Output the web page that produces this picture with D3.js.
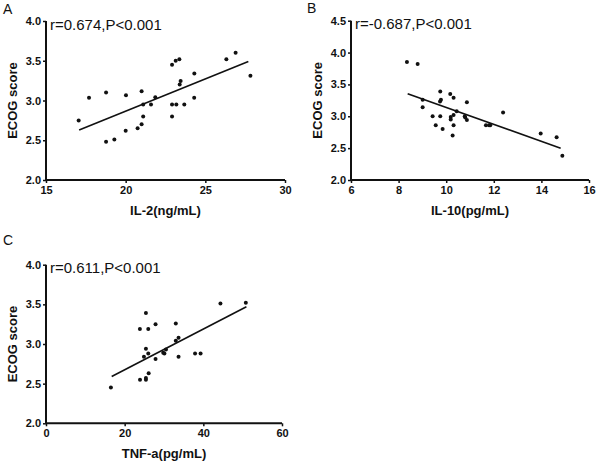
<!DOCTYPE html>
<html><head><meta charset="utf-8">
<script src="https://cdn.jsdelivr.net/npm/d3@7"></script>
<style>body{margin:0;background:#fff}svg{display:block}</style>
</head><body>
<svg id="c" width="600" height="462"></svg>
<script>
// Panel A: IL-2 (ng/mL) vs ECOG score
const il2X = [17.05,17.7,18.77,18.77,19.29,20.02,20.0,20.75,21.0,21.0,21.1,21.1,21.59,21.86,22.91,23.14,23.37,23.39,23.45,22.91,23.18,23.68,22.91,24.31,24.3,26.32,26.9,27.83];
const il2Y = [2.75,3.035,3.10,2.48,2.51,3.065,2.62,2.65,3.115,2.70,2.80,2.95,2.95,3.04,3.45,3.50,3.52,3.20,3.245,2.95,2.95,2.95,2.80,3.34,3.035,3.52,3.60,3.31];
const il2FitX = [17.08, 27.7];
const il2FitY = [2.63, 3.49];
// Panel B: IL-10 (pg/mL) vs ECOG score
const il10X = [8.35,8.80,9.01,9.01,9.43,9.56,9.75,9.75,9.74,9.78,9.85,10.17,10.19,10.19,10.31,10.27,10.31,10.31,10.44,10.78,10.87,10.87,10.80,11.67,11.80,11.85,12.39,13.97,14.64,14.88];
const il10Y = [3.85,3.82,3.26,3.14,3.00,2.86,3.00,3.39,3.23,3.26,2.80,3.35,2.99,2.95,3.29,2.70,2.86,3.02,3.08,3.00,3.22,2.94,2.98,2.86,2.86,2.86,3.06,2.73,2.67,2.38];
const il10FitX = [8.38, 14.81];
const il10FitY = [3.355, 2.50];
// Panel C: TNF-a (pg/mL) vs ECOG score
const tnfX = [16.5,23.87,26.0,25.4,24.9,25.4,26.0,23.9,25.4,25.4,26.1,27.85,27.85,29.8,30.1,30.5,33.0,33.0,33.7,33.7,37.9,39.3,44.35,50.8];
const tnfY = [2.45,3.19,3.19,3.39,2.84,2.94,2.88,2.55,2.57,2.55,2.63,3.25,2.81,2.89,2.88,2.93,3.26,3.04,3.08,2.84,2.88,2.88,3.51,3.52];
const tnfFitX = [16.7, 50.95];
const tnfFitY = [2.59, 3.47];

const xTicksA = [15,20,25,30], yTicksA = [2.0,2.5,3.0,3.5,4.0];
const xTicksB = [6,8,10,12,14,16], yTicksB = [2.0,2.5,3.0,3.5,4.0,4.5];
const xTicksC = [0,20,40,60], yTicksC = [2.0,2.5,3.0,3.5,4.0];

const svg = d3.select("#c");
const FONT = "'Liberation Sans', Arial, Helvetica, sans-serif";

function panel(o){
  const g = svg.append("g");
  const x = d3.scaleLinear().domain(o.xd).range(o.xr);
  const y = d3.scaleLinear().domain(o.yd).range(o.yr);
  const xa = g.append("g").attr("transform",`translate(0,${o.yr[0]})`)
    .call(d3.axisBottom(x).tickValues(o.xt).tickSize(3).tickPadding(3).tickFormat(d3.format("d")));
  const ya = g.append("g").attr("transform",`translate(${o.xr[0]},0)`)
    .call(d3.axisLeft(y).tickValues(o.yt).tickSize(3).tickPadding(2).tickFormat(d3.format(".1f")));
  [xa,ya].forEach(a=>{
    a.select(".domain").attr("stroke","#111").attr("stroke-width",2).attr("d", a===xa ? `M${o.xr[0]},0H${o.xr[1]}` : `M0,${o.yr[0]}V${o.yr[1]}`);
    a.selectAll(".tick line").attr("stroke","#111").attr("stroke-width",1.5);
    a.selectAll("text").attr("font-family",FONT).attr("font-size",11).attr("font-weight","bold").attr("fill","#111");
  });
  g.append("line")
    .attr("x1",x(o.fx[0])).attr("y1",y(o.fy[0]))
    .attr("x2",x(o.fx[1])).attr("y2",y(o.fy[1]))
    .attr("stroke","#111").attr("stroke-width",1.6);
  g.selectAll("circle.pt").data(o.px).enter().append("circle")
    .attr("cx",(d)=>x(d)).attr("cy",(d,i)=>y(o.py[i])).attr("r",2).attr("fill","#111");
  g.append("text").attr("x",(o.xr[0]+o.xr[1])/2).attr("y",o.yr[0]+35)
    .attr("text-anchor","middle").attr("font-family",FONT).attr("font-size",13).attr("font-weight","bold").attr("fill","#111").text(o.xlab);
  g.append("text").attr("transform",`translate(${o.xr[0]-29},${(o.yr[0]+o.yr[1])/2}) rotate(-90)`)
    .attr("text-anchor","middle").attr("font-family",FONT).attr("font-size",13).attr("font-weight","bold").attr("fill","#111").text("ECOG score");
  g.append("text").attr("x",o.xr[0]+4).attr("y",o.yr[1]+8.5)
    .attr("font-family",FONT).attr("font-size",15).attr("fill","#111").text(o.note);
  g.append("text").attr("x",o.lab[0]).attr("y",o.lab[1])
    .attr("font-family",FONT).attr("font-size",14).attr("fill","#111").text(o.letter);
}

panel({xd:[15,30],xr:[46,285],yd:[2,4],yr:[180,21],xt:xTicksA,yt:yTicksA,px:il2X,py:il2Y,fx:il2FitX,fy:il2FitY,
  xlab:"IL-2(ng/mL)",note:"r=0.674,P<0.001",letter:"A",lab:[3,14]});
panel({xd:[6,16],xr:[351,589],yd:[2,4.5],yr:[180,20.7],xt:xTicksB,yt:yTicksB,px:il10X,py:il10Y,fx:il10FitX,fy:il10FitY,
  xlab:"IL-10(pg/mL)",note:"r=-0.687,P<0.001",letter:"B",lab:[307,13]});
panel({xd:[0,60],xr:[46,282],yd:[2,4],yr:[423.3,264.7],xt:xTicksC,yt:yTicksC,px:tnfX,py:tnfY,fx:tnfFitX,fy:tnfFitY,
  xlab:"TNF-a(pg/mL)",note:"r=0.611,P<0.001",letter:"C",lab:[3,245]});
</script>
</body></html>
